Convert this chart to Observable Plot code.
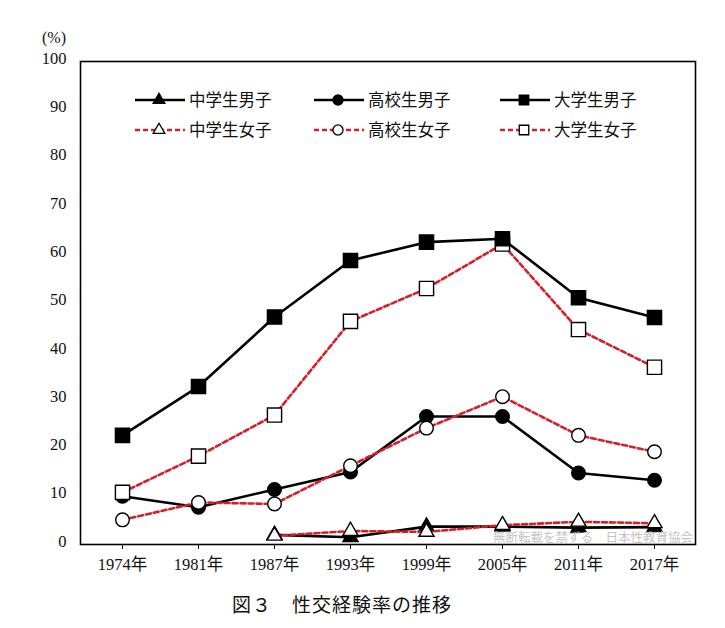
<!DOCTYPE html>
<html>
<head>
<meta charset="utf-8">
<script src="https://cdn.jsdelivr.net/npm/d3@7"></script>
<script src="https://cdn.jsdelivr.net/npm/@observablehq/plot@0.6"></script>
<style>
  body { margin: 0; background: #fff; }
  #chart svg text { font-family: "Liberation Serif", "Noto Sans CJK JP", serif; font-size: 16.5px; fill: #111; }
  #caption { font-family: "Noto Sans CJK JP", sans-serif; font-size: 19px; line-height: 38px; padding-left: 232px; color: #111; letter-spacing: 1px; }
</style>
</head>
<body>
<div id="chart"></div>
<div id="caption">図３　性交経験率の推移</div>
<script>
// ---- data ----
const years = ["1974年", "1981年", "1987年", "1993年", "1999年", "2005年", "2011年", "2017年"];
const yTicks = [0, 10, 20, 30, 40, 50, 60, 70, 80, 90, 100];
const seriesNames = ["中学生男子", "高校生男子", "大学生男子", "中学生女子", "高校生女子", "大学生女子"];
const juniorMale   = [null, null, 2.0, 1.5, 3.7, 3.7, 3.5, 3.6];
const highMale     = [10.0, 7.7, 11.4, 15.0, 26.5, 26.5, 14.8, 13.3];
const univMale     = [22.6, 32.7, 47.1, 58.8, 62.6, 63.3, 51.1, 47.0];
const juniorFemale = [null, null, 1.8, 2.8, 2.6, 4.0, 4.7, 4.4];
const highFemale   = [5.1, 8.7, 8.4, 16.3, 24.1, 30.6, 22.6, 19.2];
const univFemale   = [10.8, 18.3, 26.8, 46.2, 53.0, 62.2, 44.5, 36.7];
const yUnit = "(%)";
const watermark = "無断転載を禁ずる　日本性教育協会";

const valuesBySeries = {
  "中学生男子": juniorMale, "高校生男子": highMale, "大学生男子": univMale,
  "中学生女子": juniorFemale, "高校生女子": highFemale, "大学生女子": univFemale
};

// ---- styles ----
const RED = "#d3202a";
const style = {
  "中学生男子": {stroke: "#000", dash: null, symbol: "triangle", fill: "#000", r: 5.6},
  "高校生男子": {stroke: "#000", dash: null, symbol: "circle", fill: "#000", r: 6.8},
  "大学生男子": {stroke: "#000", dash: null, symbol: "square", fill: "#000", r: 8},
  "中学生女子": {stroke: RED, dash: "5,3", symbol: "triangle", fill: "#fff", r: 5.6},
  "高校生女子": {stroke: RED, dash: "5,3", symbol: "circle", fill: "#fff", r: 6.8},
  "大学生女子": {stroke: RED, dash: "5,3", symbol: "square", fill: "#fff", r: 8}
};
const drawOrder = ["高校生男子", "高校生女子", "中学生男子", "中学生女子", "大学生女子", "大学生男子"];

const table = [];
for (const s of seriesNames) {
  valuesBySeries[s].forEach((v, i) => { if (v != null) table.push({series: s, year: years[i], value: v}); });
}

const marks = [];
for (const s of drawOrder) {
  const st = style[s];
  const d = table.filter(r => r.series === s);
  marks.push(Plot.line(d, {x: "year", y: "value", stroke: st.stroke, strokeWidth: 2.6, strokeDasharray: st.dash}));
  marks.push(Plot.dot(d, {x: "year", y: "value", symbol: () => st.symbol, fill: st.fill, stroke: "#000", strokeWidth: 1.4, r: st.r}));
}
marks.push(Plot.frame({stroke: "#000", strokeWidth: 1.6}));

const W = 725, H = 585;
const plot = Plot.plot({
  width: W, height: H,
  marginLeft: 80, marginRight: 30, marginTop: 61, marginBottom: H - 544,
  style: {background: "#fff", overflow: "visible"},
  x: {type: "point", domain: years, padding: 0.52, tickSize: 5, tickPadding: 9, label: null},
  y: {domain: [0, 100], ticks: yTicks, tickSize: 0, tickPadding: 14, label: null},
  symbol: {type: "identity"},
  marks
});
document.getElementById("chart").appendChild(plot);

const svg = d3.select(plot);
// y tick labels sit slightly above their gridline positions in the original
svg.selectAll("g[aria-label='y-axis tick label'] text, g[aria-label='y-axis'] text").attr("transform", function () {
  const t = this.getAttribute("transform") || "";
  return t + " translate(0,-3)";
});
// unit label
svg.append("text").attr("x", 54).attr("y", 43).attr("text-anchor", "middle")
  .attr("style", 'font-family:"Liberation Serif",serif;font-size:16px;fill:#111;').text(yUnit);
// watermark
svg.append("text").attr("x", 693).attr("y", 542).attr("text-anchor", "end")
  .attr("style", 'font-family:"Noto Sans CJK JP",sans-serif;font-size:12.5px;fill:#c4c4c4;').text(watermark);

// legend
const colX = [135, 314, 500];
const rowY = [100, 130];
const symbolMap = {triangle: d3.symbolTriangle, circle: d3.symbolCircle, square: d3.symbolSquare};
seriesNames.forEach((s, i) => {
  const st = style[s];
  const cx = colX[i % 3], cy = rowY[Math.floor(i / 3)];
  const g = svg.append("g").attr("transform", `translate(${cx},${cy})`);
  g.append("line").attr("x1", 0).attr("x2", 50).attr("y1", 0).attr("y2", 0)
    .attr("stroke", st.stroke).attr("stroke-width", 2.6).attr("stroke-dasharray", st.dash);
  const size = st.symbol === "square" ? 90 : st.symbol === "circle" ? 80 : 60;
  g.append("path").attr("d", d3.symbol(symbolMap[st.symbol], size)()).attr("transform", "translate(24,0)")
    .attr("fill", st.fill).attr("stroke", "#000").attr("stroke-width", 1.3);
  g.append("text").attr("x", 54).attr("y", 0).attr("dy", "0.35em").attr("text-anchor", "start")
    .attr("style", 'font-family:"Noto Sans CJK JP",sans-serif;font-size:16.5px;fill:#111;').text(s);
});
</script>
</body>
</html>
